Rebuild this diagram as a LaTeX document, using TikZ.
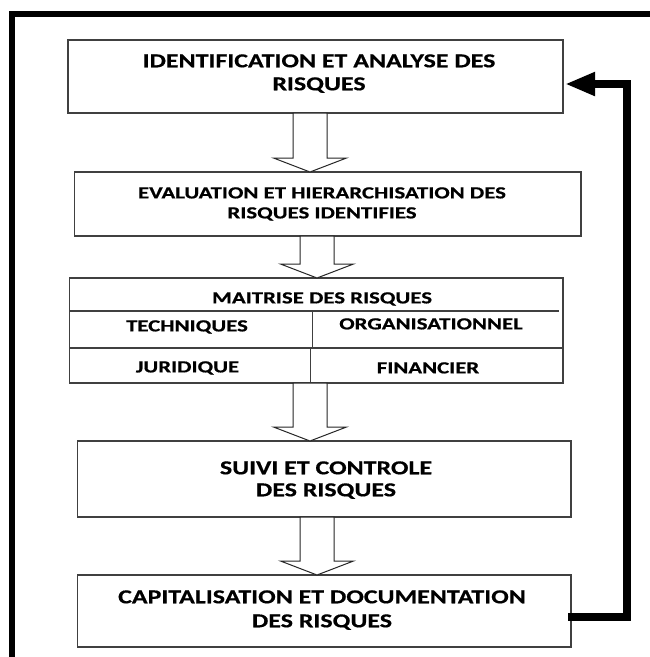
\documentclass[tikz,border=0pt]{standalone}
\usepackage{fontspec}
\newfontfamily\fa{Carlito}[FakeStretch=1.31,FakeBold=0.6]
\newfontfamily\fb{Carlito}[FakeStretch=1.34,FakeBold=0.6]
\usetikzlibrary{arrows.meta,calc}
\newcommand\hollowarrow[3]{%
  \draw[hollow] let \p1=(#2), \p2=(#3) in
   (#1-17,\y1) -- (#1+17,\y1) -- (#1+17,\y2+14pt) -- (#1+36.5,\y2+14pt)
   -- (#1,\y2) -- (#1-36.5,\y2+14pt) -- (#1-17,\y2+14pt) -- cycle;}
\begin{document}
\begin{tikzpicture}[x=1pt,y=-1pt,
  box/.style={draw=black!75,line width=1.1pt,fill=white,inner sep=0pt,outer sep=0pt},
  cellline/.style={draw=black!75,line width=1.1pt},
  hollow/.style={draw=black!85,line width=1pt,fill=white,line join=miter},
  ta/.style={font=\fa\bfseries\fontsize{19.8}{22}\selectfont,inner sep=0pt,anchor=base},
  tb/.style={font=\fb\bfseries\fontsize{17}{20}\selectfont,inner sep=0pt,anchor=base},
  frame/.style={line width=6.5pt,line join=miter},
  feed/.style={line width=7.5pt,line join=miter,-{Triangle[length=30pt,width=22pt]}}]
\useasboundingbox (0,0) rectangle (649,657);
\fill[white] (0,0) rectangle (649,657);
% outer frame
\draw[frame] (12,670) -- (12,14) -- (660,14);
% boxes
\node[box,minimum width=495pt,minimum height=73pt] (b1) at (315.5,76.5) {};
\node[box,minimum width=506.5pt,minimum height=64pt] (b2) at (327.75,204) {};
\node[box,minimum width=493.5pt,minimum height=105pt] (b3) at (316.25,330.5) {};
\node[box,minimum width=493.6pt,minimum height=76pt] (b4) at (324.2,479) {};
\node[box,minimum width=493.6pt,minimum height=72pt] (b5) at (324.2,611) {};
% texts
\node[ta] (t1a) at (319,67.3) {IDENTIFICATION ET ANALYSE DES};
\node[ta] (t1b) at (319,90.3) {RISQUES};
\node[tb] (t2a) at (322,198.4) {EVALUATION ET HIERARCHISATION DES};
\node[tb] (t2b) at (322,218.4) {RISQUES IDENTIFIES};
\node[tb] (t3) at (322,303.4) {MAITRISE DES RISQUES};
\node[tb] (t3a) at (187,331.4) {TECHNIQUES};
\node[tb] (t3b) at (431,329.4) {ORGANISATIONNEL};
\node[tb] (t3c) at (187.5,372.4) {JURIDIQUE};
\node[tb] (t3d) at (428,373.4) {FINANCIER};
\node[ta] (t4a) at (326,474.3) {SUIVI ET CONTROLE};
\node[ta] (t4b) at (326,496.3) {DES RISQUES};
\node[ta] (t5a) at (322,603.3) {CAPITALISATION ET DOCUMENTATION};
\node[ta] (t5b) at (322,627.3) {DES RISQUES};
% cells of box 3
\draw[cellline] ($(b3.north west)+(0,33)$) -- ($(b3.north east)+(-4,33)$);
\draw[cellline] ($(b3.north west)+(0,70)$) -- ($(b3.north east)+(0,70)$);
\draw[cellline] ($(b3.north west)+(243,33)$) -- ($(b3.north west)+(243,70)$);
\draw[cellline] ($(b3.north west)+(241,70)$) -- ($(b3.south west)+(241,0)$);
% hollow arrows
\hollowarrow{310}{b1.south}{b2.north}
\hollowarrow{317}{b2.south}{b3.north}
\hollowarrow{310}{b3.south}{b4.north}
\hollowarrow{317}{b4.south}{b5.north}
% feedback loop
\coordinate (fbS) at ($(b5.east)+(-3,6)$);
\coordinate (fbE) at ($(b1.east)+(2,7.5)$);
\coordinate (fbx) at (627,0);
\draw[feed] (fbS) -- (fbS -| fbx) -- (fbx |- fbE) -- (fbE);
\end{tikzpicture}
\end{document}
